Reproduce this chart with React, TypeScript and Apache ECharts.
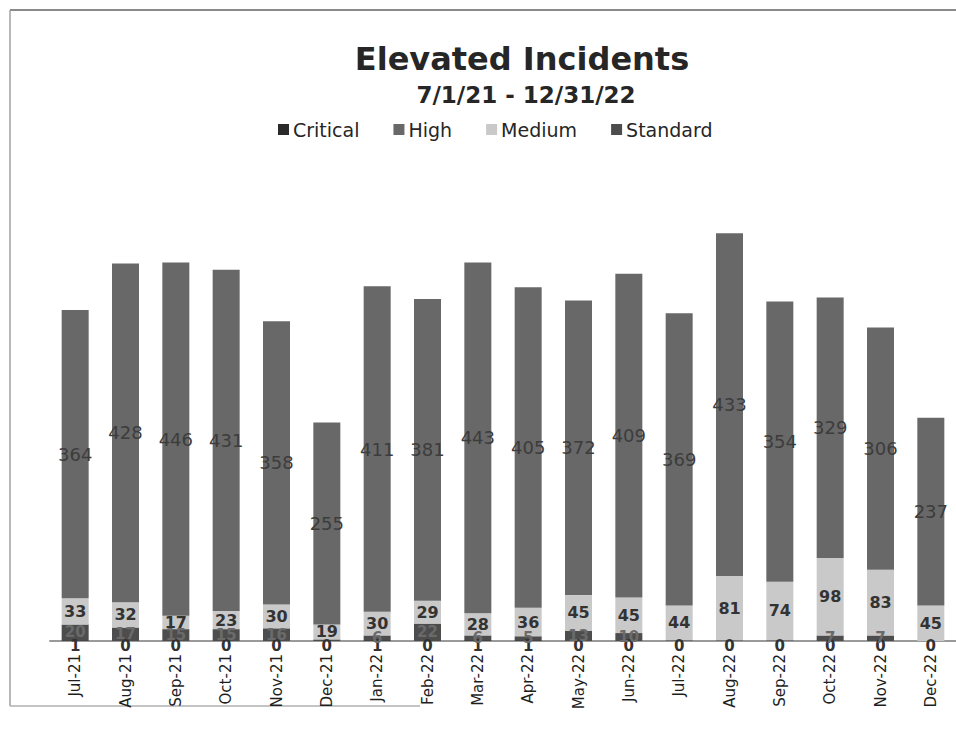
import React, { useEffect, useRef } from "react";
import * as echarts from "echarts";

const categories = ["Jul-21", "Aug-21", "Sep-21", "Oct-21", "Nov-21", "Dec-21", "Jan-22", "Feb-22", "Mar-22", "Apr-22", "May-22", "Jun-22", "Jul-22", "Aug-22", "Sep-22", "Oct-22", "Nov-22", "Dec-22"];
const critical = [1, 0, 0, 0, 0, 0, 1, 0, 1, 1, 0, 0, 0, 0, 0, 0, 0, 0];
const standard = [20, 17, 15, 15, 16, 2, 6, 22, 6, 5, 13, 10, 1, 1, 1, 7, 7, 0];
const medium = [33, 32, 17, 23, 30, 19, 30, 29, 28, 36, 45, 45, 44, 81, 74, 98, 83, 45];
const high = [364, 428, 446, 431, 358, 255, 411, 381, 443, 405, 372, 409, 369, 433, 354, 329, 306, 237];

const FONT = "DejaVu Sans";

export default function App() {
  const ref = useRef<HTMLDivElement>(null);
  useEffect(() => {
    if (!ref.current) return;
    const chart = echarts.init(ref.current, null, { renderer: "svg" });
    const lbl = (color: string, weight: any, size: number) => ({
      show: true,
      position: "inside" as const,
      color,
      fontFamily: FONT,
      fontSize: size,
      fontWeight: weight,
    });
    chart.setOption({
      animation: false,
      backgroundColor: "#ffffff",
      title: [
        {
          text: "Elevated Incidents",
          left: 517,
          textAlign: "center",
          top: 38,
          textStyle: { fontFamily: FONT, fontSize: 32, fontWeight: "bold", color: "#262626" },
        },
        {
          text: "7/1/21 - 12/31/22",
          left: 521,
          textAlign: "center",
          top: 78,
          textStyle: { fontFamily: FONT, fontSize: 23, fontWeight: "bold", color: "#262626" },
        },
      ],
      legend: {
        top: 115,
        left: 273,
        itemWidth: 11,
        itemHeight: 11,
        itemGap: 34,
        icon: "rect",
        data: ["Critical", "High", "Medium", "Standard"],
        textStyle: { fontFamily: FONT, fontSize: 19, color: "#262626", padding: [0, 0, 0, -1] },
      },
      grid: { left: 50, right: 0, top: 166, bottom: 96 },
      xAxis: {
        type: "category",
        data: categories,
        axisLine: { lineStyle: { color: "#9a9a9a", width: 2 } },
        axisTick: { show: false },
        axisLabel: { rotate: 90, fontFamily: FONT, fontSize: 15, color: "#1e1e1e", margin: 13 },
      },
      yAxis: {
        type: "value",
        min: 0,
        max: 600,
        show: false,
        splitLine: { show: false },
      },
      series: [
        {
          name: "Critical",
          type: "bar",
          stack: "s",
          barWidth: 27,
          data: critical,
          itemStyle: { color: "#2a2a2a" },
          label: { ...lbl("#333333", "bold", 15), offset: [0, 5] },
        },
        {
          name: "Standard",
          type: "bar",
          stack: "s",
          data: standard,
          itemStyle: { color: "#4d4d4d" },
          label: { ...lbl("#6a6a6a", "bold", 15), formatter: (p: any) => (p.value >= 3 ? String(p.value) : "") },
        },
        {
          name: "Medium",
          type: "bar",
          stack: "s",
          data: medium,
          itemStyle: { color: "#c9c9c9" },
          label: lbl("#333333", "bold", 16),
        },
        {
          name: "High",
          type: "bar",
          stack: "s",
          data: high,
          itemStyle: { color: "#686868" },
          label: lbl("#3c3c3c", "normal", 18),
        },
      ],
      graphic: [
        { type: "line", shape: { x1: 10, y1: 10, x2: 956, y2: 10 }, style: { stroke: "#8a8a8a", lineWidth: 2 } },
        { type: "line", shape: { x1: 10, y1: 10, x2: 10, y2: 706 }, style: { stroke: "#a0a0a0", lineWidth: 1.5 } },
        { type: "line", shape: { x1: 10, y1: 706, x2: 420, y2: 706 }, style: { stroke: "#b0b0b0", lineWidth: 1.5 } },
      ],
    });
    return () => chart.dispose();
  }, []);
  return <div ref={ref} style={{ position: "fixed", left: 0, top: 0, width: 956, height: 737 }} />;
}
